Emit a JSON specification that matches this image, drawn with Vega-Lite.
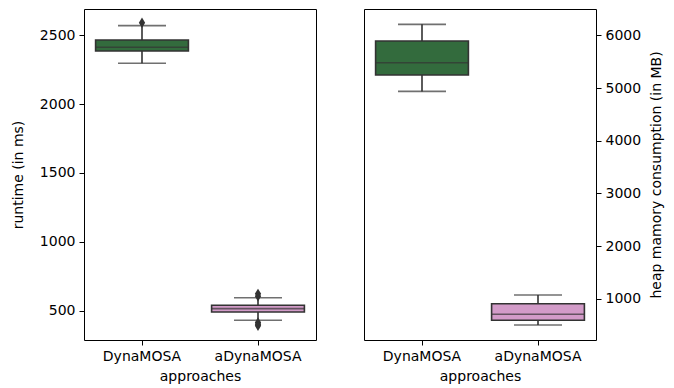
{
  "$schema": "https://vega.github.io/schema/vega-lite/v6.json",
  "padding": {"left": 10, "top": 8, "right": 5, "bottom": 5},
  "background": "white",
  "spacing": 46,
  "config": {
    "font": "DejaVu Sans",
    "view": {"stroke": "#000000", "strokeWidth": 1},
    "axis": {
      "labelFont": "DejaVu Sans", "titleFont": "DejaVu Sans",
      "labelFontSize": 14, "titleFontSize": 14, "titleFontWeight": "normal",
      "labelColor": "#000", "titleColor": "#000",
      "domain": false, "grid": false,
      "tickColor": "#000", "tickSize": 5, "tickWidth": 1,
      "labelPadding": 4
    }
  },
  "datasets": {
    "runtime": [
      {"approach": "DynaMOSA", "lo": 2297, "q1": 2386, "med": 2413, "q3": 2466, "hi": 2570},
      {"approach": "aDynaMOSA", "lo": 430, "q1": 490, "med": 515, "q3": 539, "hi": 594}
    ],
    "runtime_out": [
      {"approach": "DynaMOSA", "v": 2592},
      {"approach": "aDynaMOSA", "v": 605},
      {"approach": "aDynaMOSA", "v": 622},
      {"approach": "aDynaMOSA", "v": 415},
      {"approach": "aDynaMOSA", "v": 402},
      {"approach": "aDynaMOSA", "v": 390}
    ],
    "memory": [
      {"approach": "DynaMOSA", "lo": 4936, "q1": 5247, "med": 5480, "q3": 5892, "hi": 6209},
      {"approach": "aDynaMOSA", "lo": 500, "q1": 590, "med": 704, "q3": 905, "hi": 1070}
    ]
  },
  "hconcat": [
    {
      "width": 232, "height": 331,
      "encoding": {
        "x": {"field": "approach", "type": "nominal", "sort": ["DynaMOSA", "aDynaMOSA"],
              "scale": {"paddingInner": 0, "paddingOuter": 0},
              "axis": {"title": "approaches", "labelAngle": 0, "titlePadding": 6}}
      },
      "layer": [
        {
          "data": {"name": "runtime"},
          "mark": {"type": "rule", "color": "#333333", "strokeWidth": 1.6},
          "encoding": {
            "y": {"field": "lo", "type": "quantitative",
                  "scale": {"domain": [287, 2691], "nice": false, "zero": false},
                  "axis": {"title": "runtime (in ms)", "values": [500, 1000, 1500, 2000, 2500], "format": "d", "titlePadding": 14}},
            "y2": {"field": "hi"}
          }
        },
        {
          "data": {"name": "runtime"},
          "mark": {"type": "bar", "width": {"band": 0.8}, "stroke": "#333333", "strokeWidth": 1.6},
          "encoding": {
            "y": {"field": "q1", "type": "quantitative"},
            "y2": {"field": "q3"},
            "color": {"field": "approach", "type": "nominal", "scale": {"domain": ["DynaMOSA", "aDynaMOSA"], "range": ["#336b3d", "#d29bc8"]}, "legend": null}
          }
        },
        {
          "data": {"name": "runtime"},
          "mark": {"type": "tick", "color": "#333333", "size": 92, "thickness": 1.6},
          "encoding": {"y": {"field": "med", "type": "quantitative"}}
        },
        {
          "data": {"name": "runtime"},
          "mark": {"type": "tick", "color": "#333333", "size": 48, "thickness": 1.6},
          "encoding": {"y": {"field": "lo", "type": "quantitative"}}
        },
        {
          "data": {"name": "runtime"},
          "mark": {"type": "tick", "color": "#333333", "size": 48, "thickness": 1.6},
          "encoding": {"y": {"field": "hi", "type": "quantitative"}}
        },
        {
          "data": {"name": "runtime_out"},
          "mark": {"type": "point", "shape": "M0,-1L0.6,0L0,1L-0.6,0Z", "filled": true, "color": "#333333", "size": 110, "opacity": 1},
          "encoding": {"y": {"field": "v", "type": "quantitative"}}
        }
      ]
    },
    {
      "width": 232, "height": 331,
      "encoding": {
        "x": {"field": "approach", "type": "nominal", "sort": ["DynaMOSA", "aDynaMOSA"],
              "scale": {"paddingInner": 0, "paddingOuter": 0},
              "axis": {"title": "approaches", "labelAngle": 0, "titlePadding": 6}}
      },
      "layer": [
        {
          "data": {"name": "memory"},
          "mark": {"type": "rule", "color": "#333333", "strokeWidth": 1.6},
          "encoding": {
            "y": {"field": "lo", "type": "quantitative",
                  "scale": {"domain": [216, 6500], "nice": false, "zero": false},
                  "axis": {"title": "heap mamory consumption (in MB)", "orient": "right", "titleAngle": 270, "titleBaseline": "top", "values": [1000, 2000, 3000, 4000, 5000, 6000], "format": "d", "titlePadding": 9}},
            "y2": {"field": "hi"}
          }
        },
        {
          "data": {"name": "memory"},
          "mark": {"type": "bar", "width": {"band": 0.8}, "stroke": "#333333", "strokeWidth": 1.6},
          "encoding": {
            "y": {"field": "q1", "type": "quantitative"},
            "y2": {"field": "q3"},
            "color": {"field": "approach", "type": "nominal", "scale": {"domain": ["DynaMOSA", "aDynaMOSA"], "range": ["#336b3d", "#d29bc8"]}, "legend": null}
          }
        },
        {
          "data": {"name": "memory"},
          "mark": {"type": "tick", "color": "#333333", "size": 92, "thickness": 1.6},
          "encoding": {"y": {"field": "med", "type": "quantitative"}}
        },
        {
          "data": {"name": "memory"},
          "mark": {"type": "tick", "color": "#333333", "size": 48, "thickness": 1.6},
          "encoding": {"y": {"field": "lo", "type": "quantitative"}}
        },
        {
          "data": {"name": "memory"},
          "mark": {"type": "tick", "color": "#333333", "size": 48, "thickness": 1.6},
          "encoding": {"y": {"field": "hi", "type": "quantitative"}}
        }
      ]
    }
  ],
  "resolve": {"scale": {"y": "independent", "color": "shared"}}
}
